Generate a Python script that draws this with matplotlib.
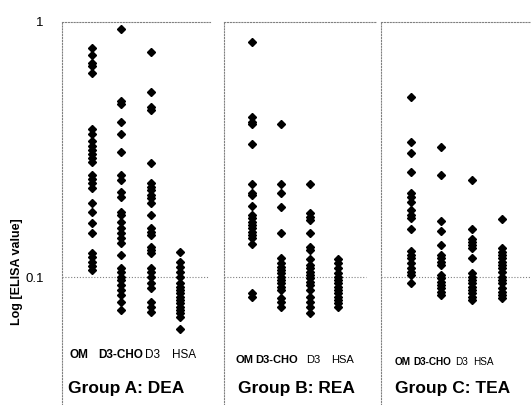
import matplotlib
matplotlib.use("Agg")
import matplotlib.pyplot as plt

# === DATA ===
CATEGORIES = ["OM", "D3-CHO", "D3", "HSA"]
GROUPS = ["Group A: DEA", "Group B: REA", "Group C: TEA"]

# Group A: DEA
dea_om = [0.79, 0.74, 0.69, 0.67, 0.63, 0.38, 0.364, 0.341, 0.326, 0.315, 0.304, 0.293,
          0.282, 0.251, 0.242, 0.234, 0.223, 0.195, 0.180, 0.163, 0.149, 0.124, 0.120,
          0.114, 0.110, 0.1065]
dea_d3cho = [0.94, 0.49, 0.477, 0.405, 0.364, 0.309, 0.251, 0.240, 0.215, 0.206, 0.180,
             0.175, 0.164, 0.156, 0.149, 0.142, 0.136, 0.122, 0.1085, 0.1046, 0.100,
             0.0973, 0.093, 0.0889, 0.085, 0.0798, 0.0742]
dea_d3 = [0.763, 0.531, 0.464, 0.452, 0.280, 0.234, 0.225, 0.219, 0.210, 0.204, 0.195,
          0.175, 0.156, 0.150, 0.146, 0.131, 0.128, 0.124, 0.1085, 0.1046, 0.100, 0.0947,
          0.0906, 0.0798, 0.0763, 0.0729]
dea_hsa = [0.125, 0.114, 0.1094, 0.1046, 0.100, 0.0947, 0.0914, 0.0889, 0.0866, 0.0835,
           0.0813, 0.0791, 0.0763, 0.0742, 0.0722, 0.0697, 0.0625]

# Group B: REA
rea_om = [0.835, 0.424, 0.405, 0.398, 0.332, 0.232, 0.214, 0.210, 0.190, 0.175, 0.170,
          0.164, 0.160, 0.156, 0.150, 0.146, 0.142, 0.135, 0.0866, 0.0835]
rea_d3cho = [0.398, 0.232, 0.214, 0.188, 0.149, 0.119, 0.1135, 0.1094, 0.1065, 0.1037,
             0.100, 0.0973, 0.0947, 0.0914, 0.0889, 0.0827, 0.0798, 0.0763]
rea_d3 = [0.232, 0.178, 0.172, 0.167, 0.149, 0.131, 0.128, 0.118, 0.1114, 0.1085, 0.1046,
          0.1018, 0.0991, 0.0956, 0.093, 0.0889, 0.0835, 0.0798, 0.0763, 0.0722]
rea_hsa = [0.118, 0.1135, 0.1085, 0.1037, 0.100, 0.0973, 0.0947, 0.0914, 0.0889, 0.0866,
           0.0835, 0.0813, 0.0791, 0.0763]

# Group C: TEA
tea_om = [0.508, 0.338, 0.306, 0.258, 0.214, 0.206, 0.197, 0.183, 0.175, 0.170, 0.154,
          0.126, 0.122, 0.119, 0.1135, 0.1085, 0.1046, 0.1018, 0.0947]
tea_d3cho = [0.324, 0.251, 0.166, 0.152, 0.134, 0.122, 0.119, 0.114, 0.1114, 0.1018,
             0.0991, 0.0956, 0.093, 0.0906, 0.0873, 0.085]
tea_d3 = [0.240, 0.154, 0.141, 0.137, 0.134, 0.130, 0.119, 0.1037, 0.100, 0.0973, 0.0947,
          0.0914, 0.0889, 0.0866, 0.0835, 0.0813]
tea_hsa = [0.169, 0.130, 0.125, 0.122, 0.119, 0.114, 0.1114, 0.1085, 0.1046, 0.100,
           0.0973, 0.0947, 0.0906, 0.0873, 0.085, 0.0827]

SERIES = [
    [dea_om, dea_d3cho, dea_d3, dea_hsa],
    [rea_om, rea_d3cho, rea_d3, rea_hsa],
    [tea_om, tea_d3cho, tea_d3, tea_hsa],
]

# === LAYOUT (pixels) ===
W, H = 531, 405
TOP, BOTTOM = 22, 405
DECADE_PX = 255
YMIN = 10 ** (-(BOTTOM - TOP) / DECADE_PX)
BORDER = "#808080"
DOTS = (0, (1, 1.6))

# panel box, xlim, end of 0.1 line, label row (y, word centres, size), title x
PANELS = [
    dict(left=62, right=210, xlim=(-1.0, 4.0), hl_end=208,
         lab_y=355, words=(79, 121, 153, 184), fs=8.5, tx=68),
    dict(left=224, right=377, xlim=(-0.98, 4.35), hl_end=366,
         lab_y=360, words=(245, 277, 313, 343), fs=8.0, tx=238),
    dict(left=381, right=531, xlim=(-1.0, 3.96), hl_end=531,
         lab_y=362, words=(403, 432, 462, 483), fs=7.2, tx=395),
]

plt.rcParams['font.family'] = ['Liberation Sans', 'DejaVu Sans']
fig = plt.figure(figsize=(W / 100, H / 100), dpi=100)


def px_axes(left, right):
    return fig.add_axes([left / W, 1 - BOTTOM / H, (right - left) / W, (BOTTOM - TOP) / H])


for p, (cfg, group, series) in enumerate(zip(PANELS, GROUPS, SERIES)):
    ax = px_axes(cfg["left"], cfg["right"])
    ax.set_yscale("log")
    ax.set_ylim(YMIN, 1)
    ax.set_xlim(*cfg["xlim"])
    ax.patch.set_alpha(0)

    for name in ("right", "bottom"):
        ax.spines[name].set_visible(False)
    for name in ("top", "left"):
        ax.spines[name].set_linestyle(DOTS)
        ax.spines[name].set_color(BORDER)
        ax.spines[name].set_linewidth(0.8)

    width = cfg["right"] - cfg["left"]
    ax.axhline(0.1, xmin=0, xmax=(cfg["hl_end"] - cfg["left"]) / width,
               color=BORDER, lw=0.8, ls=DOTS)

    for i, vals in enumerate(series):
        ax.plot([i] * len(vals), vals, ls="none", marker="D", ms=3.8,
                color="black", clip_on=False)

    ax.set_xticks([])
    ax.minorticks_off()
    if p == 0:
        ax.set_yticks([0.1, 1])
        ax.set_yticklabels(["0.1", "1"], fontsize=9.5)
        ax.tick_params(axis="y", length=0, pad=13)
    else:
        ax.set_yticks([])

    # category labels under the columns
    for i, (cat, wx) in enumerate(zip(CATEGORIES, cfg["words"])):
        weight = "bold" if i < 2 else "normal"
        fig.text(wx / W, 1 - cfg["lab_y"] / H, cat, fontsize=cfg["fs"],
                 fontweight=weight, ha="center", va="center")
    fig.text(cfg["tx"] / W, 1 - 388 / H, group, fontsize=12.5, fontweight="bold",
             ha="left", va="center")

fig.text(17 / W, 1 - 272 / H, "Log [ELISA value]", rotation=90, fontsize=9,
         fontweight="bold", ha="center", va="center")

fig.savefig("out.png", dpi=100)
